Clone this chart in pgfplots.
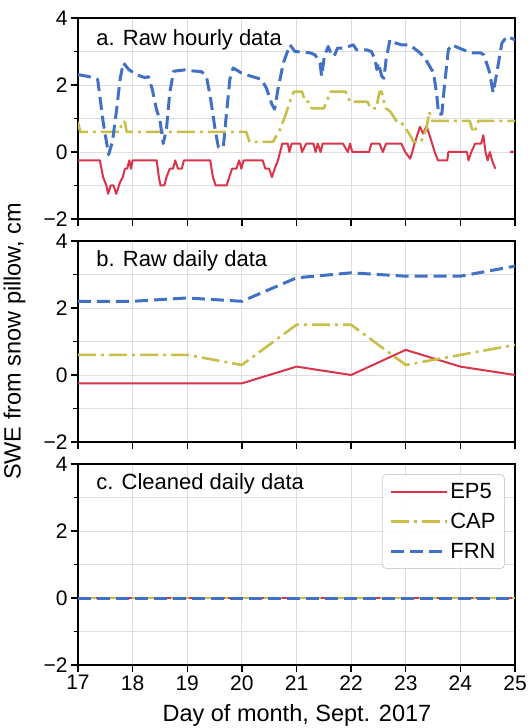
\documentclass[border=0pt]{standalone}
\usepackage{fontspec}
\setmainfont{Liberation Sans}
\usepackage{pgfplots}
\usepackage{pgfplotstable}
\pgfplotsset{compat=1.18}

\definecolor{epcol}{HTML}{D9344A}
\definecolor{capcol}{HTML}{C8BF4A}
\definecolor{frncol}{HTML}{4170C4}

% ---------- raw hourly series (day of month, SWE in cm) ----------
\pgfplotstableread{
day swe
17.00 -0.25
17.40 -0.25
17.46 -0.75
17.52 -1.00
17.55 -1.25
17.60 -1.00
17.65 -1.00
17.70 -1.25
17.77 -0.90
17.82 -0.75
17.86 -0.50
17.90 -0.50
17.94 -0.25
17.97 -0.50
18.00 -0.25
18.44 -0.25
18.48 -0.75
18.51 -1.00
18.58 -1.00
18.62 -0.75
18.68 -0.50
18.74 -0.50
18.78 -0.25
18.83 -0.50
18.90 -0.50
18.94 -0.25
19.42 -0.25
19.47 -0.75
19.52 -1.00
19.72 -1.00
19.77 -0.75
19.82 -0.50
19.90 -0.50
19.95 -0.25
19.99 -0.50
20.03 -0.25
20.38 -0.25
20.43 -0.50
20.50 -0.50
20.55 -0.75
20.60 -0.50
20.66 -0.25
20.70 0.00
20.74 0.25
20.84 0.25
20.87 0.00
20.91 0.25
21.07 0.25
21.10 0.00
21.18 0.25
21.31 0.25
21.35 0.00
21.39 0.25
21.44 0.00
21.48 0.25
21.85 0.25
21.94 0.00
21.98 0.25
22.02 0.00
22.33 0.00
22.37 0.25
22.52 0.25
22.58 0.00
22.64 0.25
22.92 0.25
22.99 0.00
23.08 -0.20
23.12 0.00
23.16 0.25
23.26 0.75
23.32 0.55
23.38 0.78
23.44 0.48
23.53 0.00
23.59 -0.25
23.76 -0.25
23.78 0.00
24.12 0.00
24.15 -0.25
24.20 0.00
24.27 0.25
24.38 0.25
24.42 0.50
24.46 0.00
24.50 -0.25
24.54 0.00
24.58 -0.25
24.64 -0.50
nan nan
24.91 0.00
24.98 0.00
}\epfivehourly

\pgfplotstableread{
day swe
17.00 0.90
17.04 0.60
17.77 0.60
17.80 0.90
17.86 0.90
17.89 0.60
20.08 0.60
20.14 0.30
20.57 0.30
20.62 0.45
20.68 0.60
20.74 0.85
20.80 1.10
20.85 1.37
20.90 1.60
20.95 1.80
21.10 1.80
21.16 1.50
21.22 1.50
21.28 1.30
21.50 1.30
21.55 1.50
21.62 1.80
21.90 1.80
21.98 1.50
22.30 1.50
22.36 1.30
22.46 1.30
22.52 1.80
22.56 1.80
22.60 1.50
22.64 1.30
22.72 1.20
22.78 1.05
22.84 0.90
22.92 0.88
23.00 0.70
23.08 0.50
23.14 0.30
23.28 0.30
23.38 0.70
23.43 1.20
23.48 0.93
24.17 0.93
24.21 0.70
24.26 0.58
24.29 0.75
24.33 0.93
25.00 0.93
}\caphourly

\pgfplotstableread{
day swe
17.00 2.31
17.20 2.25
17.36 2.17
17.46 0.90
17.56 -0.08
17.63 0.30
17.71 1.30
17.77 2.17
17.83 2.66
17.93 2.46
18.07 2.31
18.22 2.22
18.29 2.25
18.36 1.87
18.44 1.25
18.50 0.95
18.56 0.25
18.62 0.70
18.68 1.77
18.75 2.41
18.95 2.45
19.10 2.42
19.26 2.40
19.35 2.26
19.42 1.67
19.51 0.68
19.57 0.14
19.66 0.14
19.72 1.18
19.78 2.17
19.84 2.51
19.99 2.36
20.17 2.26
20.36 2.17
20.45 1.90
20.55 1.42
20.60 1.28
20.66 1.87
20.76 2.66
20.88 3.20
20.97 3.00
21.25 2.96
21.34 2.90
21.43 2.66
21.46 2.26
21.51 2.86
21.58 3.15
21.64 2.90
21.69 2.86
21.75 3.10
21.87 3.10
22.04 3.20
22.10 3.05
22.28 3.05
22.37 3.00
22.44 2.76
22.47 2.46
22.50 2.66
22.56 2.26
22.60 2.20
22.64 2.76
22.71 3.35
22.80 3.26
22.92 3.20
23.07 3.20
23.26 2.96
23.35 2.80
23.51 2.36
23.57 1.67
23.60 1.13
23.66 1.13
23.71 2.00
23.78 3.06
23.84 3.20
23.98 3.10
24.19 2.96
24.37 2.96
24.43 2.90
24.53 2.40
24.60 1.77
24.66 2.30
24.76 3.25
24.85 3.45
25.00 3.35
}\frnhourly

% ---------- raw daily series ----------
\pgfplotstableread{
day ep5 cap frn
17 -0.25 0.60 2.20
18 -0.25 0.60 2.20
19 -0.25 0.60 2.30
20 -0.25 0.30 2.20
21 0.25 1.50 2.90
22 0.00 1.50 3.05
23 0.75 0.30 2.95
24 0.25 0.60 2.95
25 0.00 0.90 3.25
}\rawdaily

% ---------- cleaned daily series ----------
\pgfplotstableread{
day ep5 cap frn
17 0 0 0
18 0 0 0
19 0 0 0
20 0 0 0
21 0 0 0
22 0 0 0
23 0 0 0
24 0 0 0
25 0 0 0
}\cleandaily

\tikzset{paneltitle/.style={anchor=west, font=\fontsize{22}{22}\selectfont}}

\pgfplotsset{
  panel/.style={
    scale only axis, width=437pt, height=201pt,
    xmin=17, xmax=25, ymin=-2, ymax=4,
    xtick={17,18,...,25},
    ytick={-2,0,2,4}, yticklabels={−2,0,2,4},
    minor ytick={-1,1,3},
    grid=both,
    major grid style={black!13, line width=0.8pt},
    minor grid style={black!13, line width=0.8pt},
    axis line style={black, line width=1.6pt},
    tick align=outside,
    xtick pos=left, ytick pos=left,
    major tick length=7pt, minor tick length=4.5pt,
    every tick/.style={black, line width=1.4pt},
    tick label style={font=\fontsize{21}{21}\selectfont},
    /pgf/number format/assume math mode=true,
    unbounded coords=jump,
  },
  ep5line/.style={epcol, line width=2pt, line join=round},
  capline/.style={capcol, line width=2.6pt, line join=round,
    dash pattern=on 18pt off 5pt on 3pt off 5pt},
  frnline/.style={frncol, line width=3pt, line join=round,
    dash pattern=on 13pt off 6pt},
}

\begin{document}
\begin{tikzpicture}
\useasboundingbox (0pt,0pt) rectangle (531pt,728pt);

% a. raw hourly data
\begin{axis}[panel, at={(78pt,509pt)}, anchor=south west, xticklabels={}]
  \addplot[ep5line] table[x=day, y=swe] {\epfivehourly};
  \addplot[capline] table[x=day, y=swe] {\caphourly};
  \addplot[frnline] table[x=day, y=swe] {\frnhourly};
  \node[paneltitle] at (axis description cs:0.034,0.89) {a. Raw hourly data};
\end{axis}

% b. raw daily data
\begin{axis}[panel, at={(78pt,286pt)}, anchor=south west, xticklabels={},
    ylabel={SWE from snow pillow, cm},
    y label style={at={(axis description cs:-0.145,0.5)}, anchor=center,
      font=\fontsize{23.5}{23.5}\selectfont}]
  \addplot[ep5line] table[x=day, y=ep5] {\rawdaily};
  \addplot[capline] table[x=day, y=cap] {\rawdaily};
  \addplot[frnline] table[x=day, y=frn] {\rawdaily};
  \node[paneltitle] at (axis description cs:0.034,0.90) {b. Raw daily data};
\end{axis}

% c. cleaned daily data
\begin{axis}[panel, at={(78pt,63pt)}, anchor=south west,
    xlabel={Day of month, Sept. 2017},
    x label style={at={(axis description cs:0.501,-0.25)}, anchor=center,
      font=\fontsize{23.5}{23.5}\selectfont},
    legend style={at={(0.977,0.95)}, anchor=north east,
      font=\fontsize{22}{22}\selectfont,
      draw=black!18, line width=0.8pt, rounded corners=4pt,
      fill=white, fill opacity=0.85, text opacity=1,
      inner xsep=7pt, inner ysep=7pt, row sep=9pt},
    legend cell align=left,
    legend image code/.code={%
      \draw[#1] (0pt,0pt) -- (46pt,0pt);
      \path (0pt,0pt) -- (56pt,0pt);}]
  \addplot[ep5line] table[x=day, y=ep5] {\cleandaily};
  \addlegendentry{EP5}
  \addplot[capline] table[x=day, y=cap] {\cleandaily};
  \addlegendentry{CAP}
  \addplot[frnline] table[x=day, y=frn] {\cleandaily};
  \addlegendentry{FRN}
  \node[paneltitle] at (axis description cs:0.034,0.90) {c. Cleaned daily data};
\end{axis}
\end{tikzpicture}
\end{document}
